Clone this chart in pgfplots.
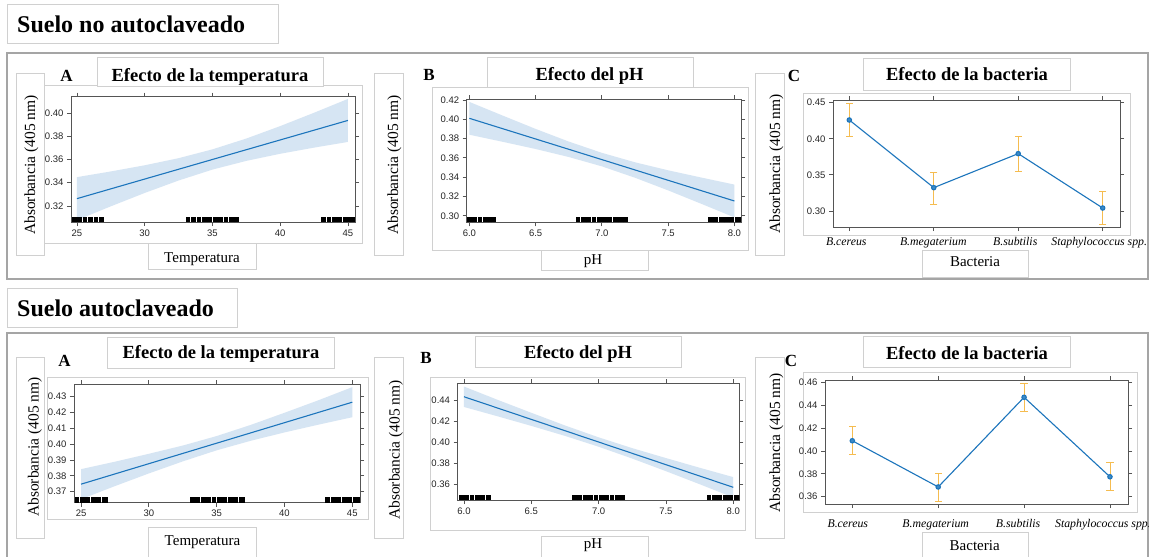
\documentclass[border=0pt]{standalone}
\usepackage{fontspec}
\setmainfont{Liberation Serif}
\newfontfamily\sansf{Liberation Sans}
\usepackage{pgfplots}
\pgfplotsset{compat=1.18}
\definecolor{framegray}{RGB}{165,165,165}
\definecolor{boxgray}{RGB}{208,208,208}
\definecolor{axgray}{RGB}{85,85,85}
\definecolor{lineblue}{RGB}{28,117,188}
\definecolor{bandblue}{RGB}{214,229,243}
\definecolor{errorange}{RGB}{245,188,80}
\newcommand\tickfont{\sansf\fontsize{9.5}{11}\selectfont}
\newcommand\catfont{\itshape\fontsize{11.8}{14}\selectfont}
\newcommand\ylabfont{\fontsize{15.5}{18}\selectfont}
\newcommand\xlabfont{\fontsize{15}{18}\selectfont}
\newcommand\titfont{\bfseries\fontsize{18.5}{22}\selectfont}
\newcommand\letfont{\bfseries\fontsize{17}{20}\selectfont}
\newcommand\bigfont{\bfseries\fontsize{24}{28}\selectfont}
\pgfplotsset{
  rplot/.style={
    scale only axis, anchor=south west,
    axis line style={draw=axgray, line width=0.9pt},
    tick style={draw=axgray, line width=0.8pt},
    major tick length=4pt, tick align=outside,
    tick pos=both, xticklabel pos=lower, yticklabel pos=left,
    ticklabel style={font=\tickfont, text=black!85},
    /pgf/number format/assume math mode=true,
    yticklabel style={/pgf/number format/.cd, fixed, fixed zerofill, precision=2},
  },
  band/.style={fill=bandblue, draw=none},
  fit/.style={lineblue, line width=1.1pt, mark=none},
  rug/.style={ycomb, black, line width=4.8pt, mark=none},
  caps/.style={only marks, forget plot, mark=-, mark size=3.6pt, mark options={draw=errorange, line width=0.9pt}},
  means/.style={lineblue, line width=1.1pt, mark=*, mark size=2.2pt,
    mark options={fill=lineblue!85, draw=lineblue},
    error bars/.cd, y dir=both, y explicit, error mark=none,
    error bar style={draw=errorange, line width=0.9pt}},
}
\tikzset{bx/.style={draw=boxgray, fill=white, line width=0.8pt}}
\begin{document}
\begin{tikzpicture}
\useasboundingbox (0,0) rectangle (1149pt,-557pt);
\clip (0,0) rectangle (1149pt,-557pt);
\begin{scope}[x=1pt,y=-1pt]
  \fill[white] (0,0) rectangle (1149,557);
  \draw[framegray, line width=2pt] (7,53) rectangle (1148,279);
  \draw[framegray, line width=2pt] (7,333) rectangle (1148,620);
  % top boxes
  \draw[bx] (7,4) rectangle (278,43);
  \draw[bx] (16,73) rectangle (44,255);
  \draw[bx] (44,85) rectangle (362,243);
  \draw[bx] (97,57) rectangle (323,86);
  \draw[bx] (148,243) rectangle (256,269);
  \draw[bx] (374,73) rectangle (403,255);
  \draw[bx] (432,87) rectangle (748,250);
  \draw[bx] (487,57) rectangle (693,87);
  \draw[bx] (541,250) rectangle (648,270);
  \draw[bx] (755,73) rectangle (784,255);
  \draw[bx] (803,93) rectangle (1130,235);
  \draw[bx] (863,58) rectangle (1070,90);
  \draw[bx] (922,250) rectangle (1028,277);
  % bottom boxes
  \draw[bx] (7,288) rectangle (237,327);
  \draw[bx] (16,357) rectangle (44,538);
  \draw[bx] (47,377) rectangle (368,519);
  \draw[bx] (107,337) rectangle (334,368);
  \draw[bx] (148,527) rectangle (256,575);
  \draw[bx] (374,357) rectangle (403,538);
  \draw[bx] (430,377) rectangle (745,530);
  \draw[bx] (475,336) rectangle (681,367);
  \draw[bx] (541,536) rectangle (648,575);
  \draw[bx] (755,357) rectangle (784,538);
  \draw[bx] (803,372) rectangle (1137,512);
  \draw[bx] (863,336) rectangle (1070,367);
  \draw[bx] (922,532) rectangle (1028,575);
  % texts
  \node[anchor=base west, inner sep=0, font=\bigfont] at (17,32.3) {Suelo no autoclaveado};
  \node[anchor=base west, inner sep=0, font=\bigfont] at (17,316.7) {Suelo autoclaveado};
  \node[anchor=base, inner sep=0, font=\titfont] at (210,81) {Efecto de la temperatura};
  \node[anchor=base, inner sep=0, font=\titfont] at (589.5,80.7) {Efecto del pH};
  \node[anchor=base, inner sep=0, font=\titfont] at (967,80) {Efecto de la bacteria};
  \node[anchor=base, inner sep=0, font=\titfont] at (221,358.3) {Efecto de la temperatura};
  \node[anchor=base, inner sep=0, font=\titfont] at (578,358.3) {Efecto del pH};
  \node[anchor=base, inner sep=0, font=\titfont] at (967,359.3) {Efecto de la bacteria};
  \node[anchor=base, inner sep=0, font=\letfont] at (66.5,81.7) {A};
  \node[anchor=base, inner sep=0, font=\letfont] at (429,80) {B};
  \node[anchor=base, inner sep=0, font=\letfont] at (794,81.7) {C};
  \node[anchor=base, inner sep=0, font=\letfont] at (64.5,366.7) {A};
  \node[anchor=base, inner sep=0, font=\letfont] at (426,363.3) {B};
  \node[anchor=base, inner sep=0, font=\letfont] at (791,366) {C};
  \node[anchor=base, rotate=90, inner sep=0, font=\ylabfont] at (35,165) {Absorbancia (405 nm)};
  \node[anchor=base, rotate=90, inner sep=0, font=\ylabfont] at (398,165) {Absorbancia (405 nm)};
  \node[anchor=base, rotate=90, inner sep=0, font=\ylabfont] at (780,164) {Absorbancia (405 nm)};
  \node[anchor=base, rotate=90, inner sep=0, font=\ylabfont] at (38.5,447) {Absorbancia (405 nm)};
  \node[anchor=base, rotate=90, inner sep=0, font=\ylabfont] at (399.5,450) {Absorbancia (405 nm)};
  \node[anchor=base, rotate=90, inner sep=0, font=\ylabfont] at (780,443) {Absorbancia (405 nm)};
  \node[anchor=base, inner sep=0, font=\xlabfont] at (202,262.7) {Temperatura};
  \node[anchor=base, inner sep=0, font=\xlabfont] at (593,264) {pH};
  \node[anchor=base, inner sep=0, font=\xlabfont] at (975,266.7) {Bacteria};
  \node[anchor=base, inner sep=0, font=\xlabfont] at (202.5,545) {Temperatura};
  \node[anchor=base, inner sep=0, font=\xlabfont] at (593,548) {pH};
  \node[anchor=base, inner sep=0, font=\xlabfont] at (974.7,550) {Bacteria};
\end{scope}

% ---------- Top A ----------
\begin{axis}[rplot, at={(71pt,-222pt)}, width=284pt, height=125.3pt,
  xmin=24.56, xmax=45.52, ymin=0.3062, ymax=0.414,
  xtick={25,30,35,40,45}, ytick={0.32,0.34,0.36,0.38,0.40}]
\addplot[band] coordinates {(25,.3448)(27.5,.3497)(30,.3550)(32.5,.3611)(35,.3687)(37.5,.3780)(40,.3887)(42.5,.4002)(45,.4121)(45,.3751)(42.5,.3702)(40,.3649)(37.5,.3588)(35,.3513)(32.5,.3419)(30,.3312)(27.5,.3197)(25,.3078)} -- cycle;
\addplot[fit] coordinates {(25,.3263)(35,.3600)(45,.3936)};
\addplot[rug] coordinates {(24.8,.3108)(25.2,.3108)(25.6,.3108)(26.0,.3108)(26.4,.3108)(26.8,.3108)
 (33.2,.3108)(33.6,.3108)(34.0,.3108)(34.4,.3108)(34.8,.3108)(35.2,.3108)(35.6,.3108)(36.0,.3108)(36.4,.3108)(36.8,.3108)
 (43.2,.3108)(43.6,.3108)(44.0,.3108)(44.4,.3108)(44.8,.3108)(45.2,.3108)(45.35,.3108)};
\end{axis}

% ---------- Top B ----------
\begin{axis}[rplot, at={(466.7pt,-222.3pt)}, width=274.3pt, height=123pt,
  xmin=5.98, xmax=8.05, ymin=0.2932, ymax=0.4207,
  xtick={6,6.5,7,7.5,8}, ytick={0.30,0.32,0.34,0.36,0.38,0.40,0.42},
  xticklabel style={/pgf/number format/.cd, fixed, fixed zerofill, precision=1}]
\addplot[band] coordinates {(6,.4180)(6.25,.4039)(6.5,.3900)(6.75,.3769)(7,.3652)(7.25,.3554)(7.5,.3471)(7.75,.3396)(8,.3323)(8,.2983)(7.75,.3124)(7.5,.3263)(7.25,.3394)(7,.3512)(6.75,.3609)(6.5,.3692)(6.25,.3767)(6,.3840)} -- cycle;
\addplot[fit] coordinates {(6,.4010)(7,.3582)(8,.3153)};
\addplot[rug] coordinates {(6.00,.299)(6.04,.299)(6.08,.299)(6.12,.299)(6.16,.299)(6.18,.299)
 (6.82,.299)(6.86,.299)(6.90,.299)(6.94,.299)(6.98,.299)(7.02,.299)(7.06,.299)(7.10,.299)(7.14,.299)(7.18,.299)
 (7.82,.299)(7.86,.299)(7.90,.299)(7.94,.299)(7.98,.299)(8.02,.299)(8.03,.299)};
\end{axis}

% ---------- Top C ----------
\begin{axis}[rplot, at={(833pt,-227pt)}, width=287pt, height=127pt,
  xmin=0.807, xmax=4.205, ymin=0.2778, ymax=0.4537,
  xtick={1,2,3,4}, ytick={0.30,0.35,0.40,0.45},
  xticklabels={{\hspace{-6pt}B.cereus\hspace{6pt}},{\hspace{-1pt}B.megaterium\hspace{1pt}},{\hspace{-6pt}B.subtilis\hspace{6pt}},{\hspace{-7pt}Staphylococcus spp.\hspace{7pt}}},
  xticklabel style={font=\catfont, text=black, yshift=-3pt}]
\addplot[caps] coordinates {(1,.4490)(2,.3536)(3,.4029)(4,.3267)(1,.4029)(2,.3093)(3,.3554)(4,.2815)};
\addplot[means] coordinates {(1,.4260) += (0,.0230) -= (0,.0231)
 (2,.3323) += (0,.0213) -= (0,.0230)
 (3,.3794) += (0,.0235) -= (0,.0240)
 (4,.3041) += (0,.0226) -= (0,.0226)};
\end{axis}

% ---------- Bottom A ----------
\begin{axis}[rplot, at={(74pt,-502.7pt)}, width=286pt, height=118.4pt,
  xmin=24.48, xmax=45.57, ymin=0.363, ymax=0.4378,
  xtick={25,30,35,40,45}, ytick={0.37,0.38,0.39,0.40,0.41,0.42,0.43}]
\addplot[band] coordinates {(25,.3842)(27.5,.3889)(30,.3939)(32.5,.3991)(35,.4051)(37.5,.4121)(40,.4198)(42.5,.4277)(45,.4360)(45,.4170)(42.5,.4123)(40,.4074)(37.5,.4021)(35,.3961)(32.5,.3891)(30,.3815)(27.5,.3735)(25,.3652)} -- cycle;
\addplot[fit] coordinates {(25,.3747)(35,.4006)(45,.4265)};
\addplot[rug] coordinates {(24.7,.3668)(25.1,.3668)(25.5,.3668)(25.9,.3668)(26.3,.3668)(26.7,.3668)(26.8,.3668)
 (33.2,.3668)(33.6,.3668)(34.0,.3668)(34.4,.3668)(34.8,.3668)(35.2,.3668)(35.6,.3668)(36.0,.3668)(36.4,.3668)(36.8,.3668)(36.9,.3668)
 (43.2,.3668)(43.6,.3668)(44.0,.3668)(44.4,.3668)(44.8,.3668)(45.2,.3668)(45.4,.3668)};
\end{axis}

% ---------- Bottom B ----------
\begin{axis}[rplot, at={(457.5pt,-500pt)}, width=281.8pt, height=116.7pt,
  xmin=5.952, xmax=8.045, ymin=0.3446, ymax=0.4567,
  xtick={6,6.5,7,7.5,8}, ytick={0.36,0.38,0.40,0.42,0.44},
  xticklabel style={/pgf/number format/.cd, fixed, fixed zerofill, precision=1}]
\addplot[band] coordinates {(6,.4536)(6.25,.4408)(6.5,.4284)(6.75,.4162)(7,.4048)(7.25,.3944)(7.5,.3849)(7.75,.3756)(8,.3666)(8,.3470)(7.75,.3598)(7.5,.3723)(7.25,.3844)(7,.3958)(6.75,.4062)(6.5,.4158)(6.25,.4250)(6,.4340)} -- cycle;
\addplot[fit] coordinates {(6,.4438)(7,.4003)(8,.3568)};
\addplot[rug] coordinates {(5.98,.3497)(6.02,.3497)(6.06,.3497)(6.10,.3497)(6.14,.3497)(6.18,.3497)
 (6.82,.3497)(6.86,.3497)(6.90,.3497)(6.94,.3497)(6.98,.3497)(7.02,.3497)(7.06,.3497)(7.10,.3497)(7.14,.3497)(7.18,.3497)
 (7.82,.3497)(7.86,.3497)(7.90,.3497)(7.94,.3497)(7.98,.3497)(8.02,.3497)(8.03,.3497)};
\end{axis}

% ---------- Bottom C ----------
\begin{axis}[rplot, at={(825pt,-504pt)}, width=303pt, height=124pt,
  xmin=0.682, xmax=4.21, ymin=0.3536, ymax=0.462,
  xtick={1,2,3,4}, ytick={0.36,0.38,0.40,0.42,0.44,0.46},
  xticklabels={{\hspace{-9pt}B.cereus\hspace{9pt}},{\hspace{-5pt}B.megaterium\hspace{5pt}},{\hspace{-12pt}B.subtilis\hspace{12pt}},{\hspace{-14pt}Staphylococcus spp.\hspace{14pt}}},
  xticklabel style={font=\catfont, text=black, yshift=-8pt}]
\addplot[caps] coordinates {(1,.4212)(2,.3805)(3,.4591)(4,.3895)(1,.3970)(2,.3561)(3,.4349)(4,.3651)};
\addplot[means] coordinates {(1,.4089) += (0,.0123) -= (0,.0119)
 (2,.3685) += (0,.0120) -= (0,.0124)
 (3,.4469) += (0,.0122) -= (0,.0120)
 (4,.3774) += (0,.0121) -= (0,.0123)};
\end{axis}
\end{tikzpicture}
\end{document}
